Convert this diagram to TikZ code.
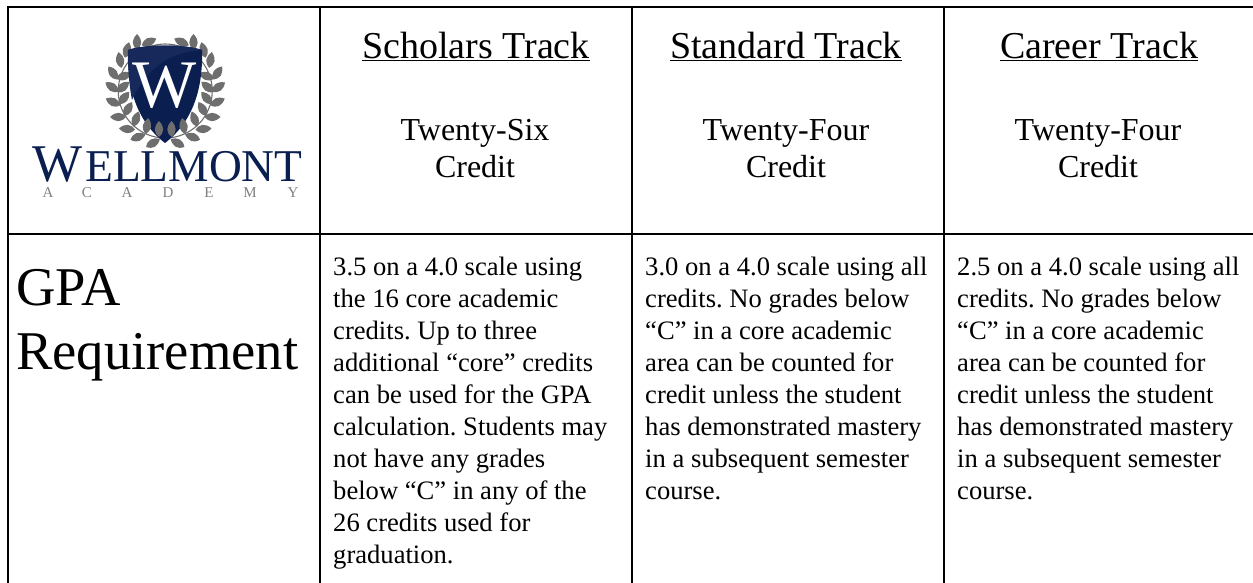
\documentclass[tikz,border=0pt]{standalone}
\usepackage{fontspec}
\setmainfont{Liberation Serif}
\definecolor{navy}{HTML}{0A1F50}
\definecolor{gloss}{HTML}{16295A}
\definecolor{leaf}{HTML}{6E6E6E}
\definecolor{acad}{HTML}{808080}
\tikzset{
 x=1pt,y=-1pt,
 grid/.style={line width=2pt,black},
 bodytxt/.style={anchor=north west,align=left,inner sep=0pt,font=\fontsize{26.6}{32}\selectfont,text=black},
 headtxt/.style={anchor=base,inner sep=0pt,font=\fontsize{38}{42}\selectfont,text=black},
 subtxt/.style={anchor=base,inner sep=0pt,font=\fontsize{32}{37}\selectfont,text=black},
 gpatxt/.style={anchor=base west,inner sep=0pt,font=\fontsize{54.6}{60}\selectfont,text=black},
 leafshape/.pic={\fill[leaf] (-8,0) .. controls (-3,5.6) and (2,5.6) .. (8,0) .. controls (2,-5.6) and (-3,-5.6) .. (-8,0) -- cycle;},
}
\frenchspacing
\begin{document}
\begin{tikzpicture}
\useasboundingbox (0,0) rectangle (1253,583);
\fill[white] (0,0) rectangle (1253,583);
% logo: wreath
\draw[leaf,line width=1.1pt] (165.25,91) circle (47);
\foreach \x/\y/\a in {137/42/90,149/42/25,127/50/75,120/60/100,113/73/125,124/76/20,112/87/145,123/87/40,113/102/155,124/98/50,118/117/180,128/109/60,127/129/175,136/119/70,138/137/20,153/143/30}{
 \path (\x,\y) pic[rotate=\a] {leafshape};
 \pgfmathsetmacro{\mx}{330.5-\x}\pgfmathsetmacro{\ma}{180-\a}
 \path (\mx,\y) pic[rotate=\ma] {leafshape};
}
% logo: shield
\fill[navy] (128,50) .. controls (145,44) and (185,44) .. (202,50) .. controls (203,85) and (195,120) .. (165,143) .. controls (135,120) and (127,85) .. (128,50) -- cycle;
\fill[gloss] (128,50) .. controls (145,44) and (185,44) .. (202,50) .. controls (175,52) and (150,62) .. (132,100) .. controls (129,85) and (128,68) .. (128,50) -- cycle;
\foreach \x/\y/\a in {147/126/80,159/129/90}{
 \path (\x,\y) pic[rotate=\a] {leafshape};
 \pgfmathsetmacro{\mx}{330.5-\x}\pgfmathsetmacro{\ma}{180-\a}
 \path (\mx,\y) pic[rotate=\ma] {leafshape};
}
\node[inner sep=0pt,anchor=base,text=white,font=\fontsize{68}{68}\selectfont] (shieldW) at (165,108) {W};
\node[inner sep=0pt,anchor=base,text=navy,font=\fontsize{53}{53}\selectfont] (logoW) at (58,182) {W};
\node[inner sep=0pt,anchor=base west,text=navy,font=\fontsize{45.5}{46}\selectfont] (logoRest) at (85,182) {ELLMONT};
\foreach \c/\x/\n in {A/48/a1,C/87/a2,A/127/a3,D/168/a4,E/209/a5,M/250/a6,Y/293/a7}{\node[inner sep=0pt,anchor=base,text=acad,font=\fontsize{15}{15}\selectfont] (\n) at (\x,197) {\c};}
% grid
\draw[grid] (7,7) -- (1253,7);
\draw[grid] (7,234) -- (1253,234);
\foreach \x in {8,320,632,944}{\draw[grid] (\x,6) -- (\x,583);}
% headers
\node[headtxt] (h1) at (476,58.5) {\underline{Scholars Track}};
\node[headtxt] (h2) at (786,58.5) {\underline{Standard Track}};
\node[headtxt] (h3) at (1099,58.5) {\underline{Career Track}};
\node[subtxt] (s1a) at (475,141) {Twenty-Six};
\node[subtxt] (s1b) at (475,178) {Credit};
\node[subtxt] (s2a) at (786,141) {Twenty-Four};
\node[subtxt] (s2b) at (786,178) {Credit};
\node[subtxt] (s3a) at (1098,141) {Twenty-Four};
\node[subtxt] (s3b) at (1098,178) {Credit};
\node[gpatxt] (g1) at (16,305) {GPA};
\node[gpatxt] (g2) at (16,369) {Requirement};
\node[bodytxt] (b1) at (333,257) {3.5 on a 4.0 scale using\\the 16 core academic\\credits. Up to three\\additional “core” credits\\can be used for the GPA\\calculation. Students may\\not have any grades\\below “C” in any of the\\26 credits used for\\graduation.};
\node[bodytxt] (b2) at (645,257) {3.0 on a 4.0 scale using all\\credits. No grades below\\“C” in a core academic\\area can be counted for\\credit unless the student\\has demonstrated mastery\\in a subsequent semester\\course.};
\node[bodytxt] (b3) at (957,257) {2.5 on a 4.0 scale using all\\credits. No grades below\\“C” in a core academic\\area can be counted for\\credit unless the student\\has demonstrated mastery\\in a subsequent semester\\course.};
\end{tikzpicture}
\end{document}
